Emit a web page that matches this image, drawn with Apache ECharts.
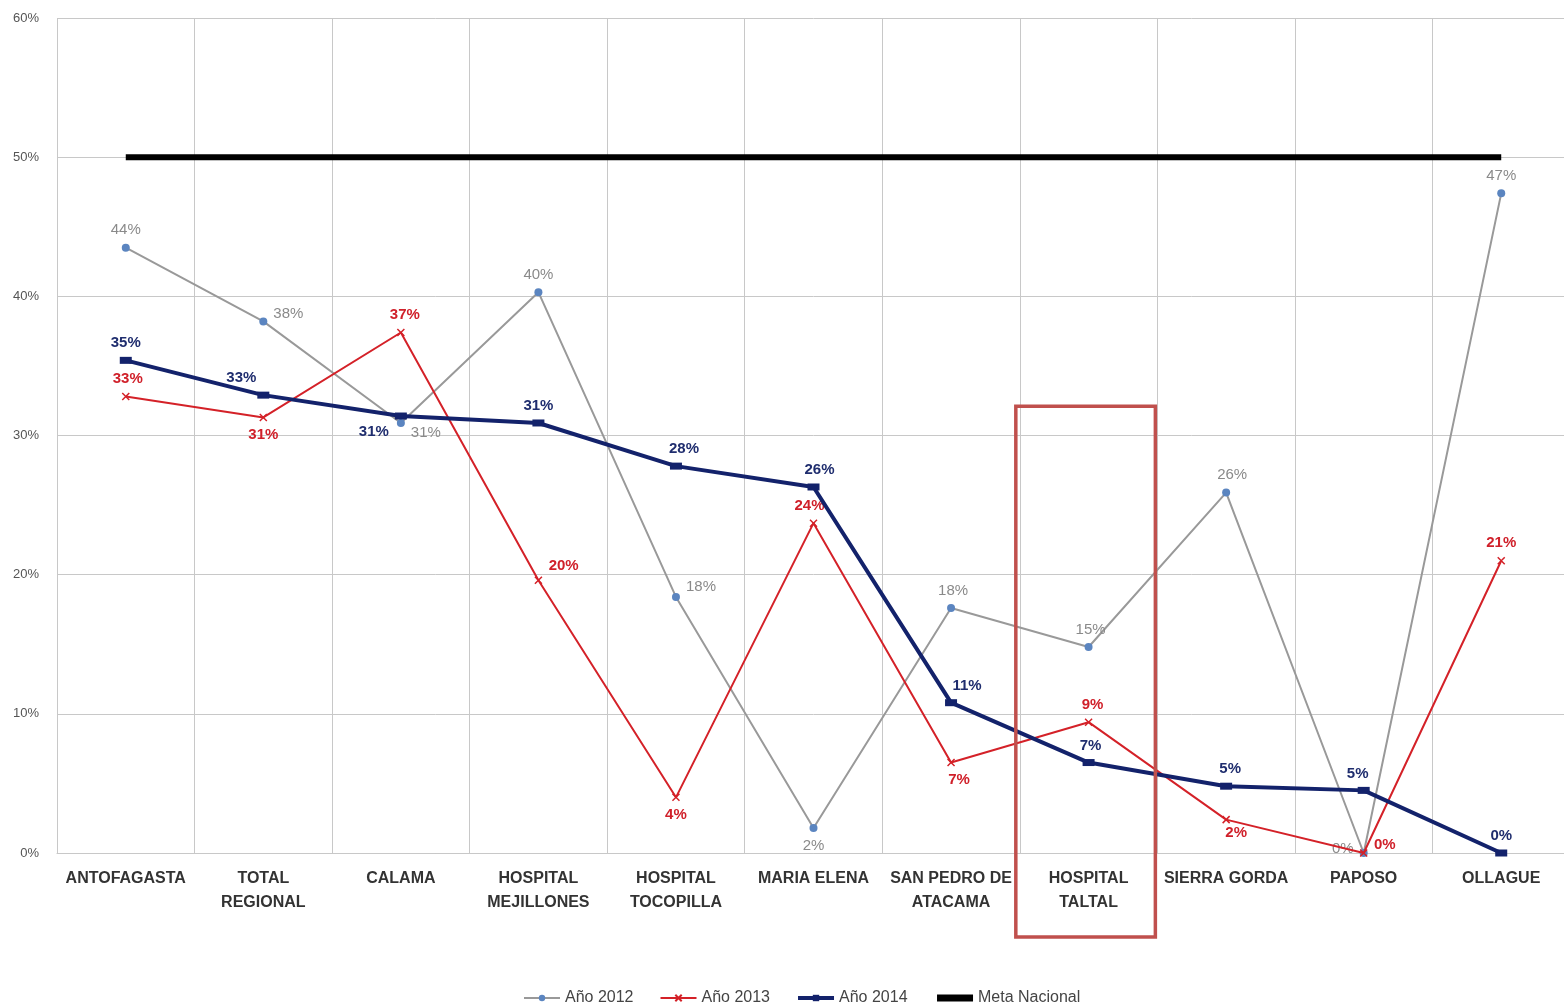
<!DOCTYPE html>
<html><head><meta charset="utf-8">
<script src="https://cdn.jsdelivr.net/npm/echarts@6/dist/echarts.min.js"></script>
<style>html,body{margin:0;padding:0;background:#fff;overflow:hidden}#c{width:1570px;height:1008px}</style>
</head><body><div id="c"></div>
<script>
var categories = ['ANTOFAGASTA','TOTAL\nREGIONAL','CALAMA','HOSPITAL\nMEJILLONES','HOSPITAL\nTOCOPILLA','MARIA ELENA','SAN PEDRO DE\nATACAMA','HOSPITAL\nTALTAL','SIERRA GORDA','PAPOSO','OLLAGUE'];
var y2012 = [43.5, 38.2, 30.9, 40.3, 18.4, 1.8, 17.6, 14.8, 25.9, 0, 47.4];
var y2013 = [32.8, 31.3, 37.4, 19.6, 4.0, 23.7, 6.5, 9.4, 2.4, 0, 21.0];
var y2014 = [35.4, 32.9, 31.4, 30.9, 27.8, 26.3, 10.8, 6.5, 4.8, 4.5, 0];
var meta = [50, 50, 50, 50, 50, 50, 50, 50, 50, 50, 50];
var yTicks = [0, 10, 20, 30, 40, 50, 60];
var seriesNames = ['Año 2012', 'Año 2013', 'Año 2014', 'Meta Nacional'];

// label placement (style only)
var pos2012 = ['top','right','right','top','right','bottom','top','top','top','left','top'];
var pos2013 = ['top','bottom','top','right','bottom','top','bottom','top','bottom','right','top'];
var pos2014 = ['top','top','left','top','top','top','top','top','top','top','top'];
var off2014 = [[0,0],[-22,0],[0,16],[0,0],[8,0],[6,0],[16,0],[2,0],[4,0],[-6,0],[0,0]];
var off2013 = [[2,0],[0,0],[4,0],[0,-14],[0,0],[-4,0],[8,0],[4,0],[10,-4],[0,-8],[0,0]];
var off2012 = [[0,0],[0,-8],[0,10],[0,0],[0,-10],[0,0],[2,0],[2,0],[6,0],[0,-4],[0,0]];

var FONT = 'Liberation Sans Narrow, Arial Narrow, Arial, sans-serif';
function items(vals, posArr, offArr, color, bold) {
  return vals.map(function (v, i) {
    return { value: v, label: { show: true, position: posArr[i], offset: offArr[i], color: color, fontWeight: bold ? 'bold' : 'normal',
      fontSize: 15, fontFamily: FONT, distance: 6,
      formatter: function (p) { return Math.round(p.value) + '%'; } } };
  });
}

var chart = echarts.init(document.getElementById('c'));
var xPath = 'path://M0,0L10,10M10,0L0,10';
chart.setOption({
  animation: false,
  grid: { left: 57, top: 18, right: 0, bottom: 155, containLabel: false },
  legend: {
    bottom: -3, left: 518, itemWidth: 36, itemHeight: 8, itemGap: 26,
    textStyle: { fontSize: 16, color: '#444', fontFamily: FONT },
    data: [
      { name: seriesNames[0] },
      { name: seriesNames[1] },
      { name: seriesNames[2], lineStyle: { width: 4 } },
      { name: seriesNames[3], lineStyle: { width: 7 }, itemStyle: { opacity: 0 } }
    ]
  },
  xAxis: {
    type: 'category', data: categories, boundaryGap: true,
    axisLine: { show: true, lineStyle: { color: '#c8c8c8' } },
    axisTick: { show: false },
    splitLine: { show: true, lineStyle: { color: '#c8c8c8' } },
    axisLabel: { interval: 0, color: '#333', fontWeight: 'bold', fontSize: 16, lineHeight: 24, margin: 14, fontFamily: FONT }
  },
  yAxis: {
    type: 'value', min: 0, max: 60, interval: 10,
    axisLine: { show: false }, axisTick: { show: false },
    splitLine: { lineStyle: { color: '#c8c8c8' } },
    axisLabel: { color: '#555', fontSize: 13, margin: 18, fontFamily: FONT,
      formatter: function (v) { return yTicks.indexOf(v) >= 0 ? v + '%' : ''; } }
  },
  series: [
    { name: seriesNames[0], type: 'line', data: items(y2012, pos2012, off2012, '#8a8a8a', false),
      lineStyle: { color: '#999999', width: 2 }, itemStyle: { color: '#5b85c0' },
      symbol: 'circle', symbolSize: 8, z: 2 },
    { name: seriesNames[1], type: 'line', data: items(y2013, pos2013, off2013, '#d0202a', true),
      lineStyle: { color: '#d42128', width: 2 }, itemStyle: { color: '#d42128', borderColor: '#d42128', borderWidth: 1.5 },
      symbol: xPath, symbolSize: 7, z: 3 },
    { name: seriesNames[2], type: 'line', data: items(y2014, pos2014, off2014, '#1f2d6e', true),
      lineStyle: { color: '#13226b', width: 4 }, itemStyle: { color: '#13226b' },
      symbol: 'rect', symbolSize: [12, 7], z: 4 },
    { name: seriesNames[3], type: 'line', data: meta,
      lineStyle: { color: '#000', width: 6 }, itemStyle: { color: '#000' },
      symbol: 'none', z: 5 }
  ]
});

// annotation box around HOSPITAL TALTAL computed from axis scales
var c7 = chart.convertToPixel({ xAxisIndex: 0 }, categories[7]);
var c8 = chart.convertToPixel({ xAxisIndex: 0 }, categories[8]);
var band = c8 - c7;
var yTop = chart.convertToPixel({ yAxisIndex: 0 }, 32.1);
var yZero = chart.convertToPixel({ yAxisIndex: 0 }, 0);
chart.setOption({
  graphic: [{ type: 'rect', shape: { x: c7 - band / 2 - 4, y: yTop, width: band + 2, height: yZero - yTop + 84 },
    style: { fill: 'none', stroke: '#c0504d', lineWidth: 3.5 }, z: 100 }]
});
</script></body></html>
